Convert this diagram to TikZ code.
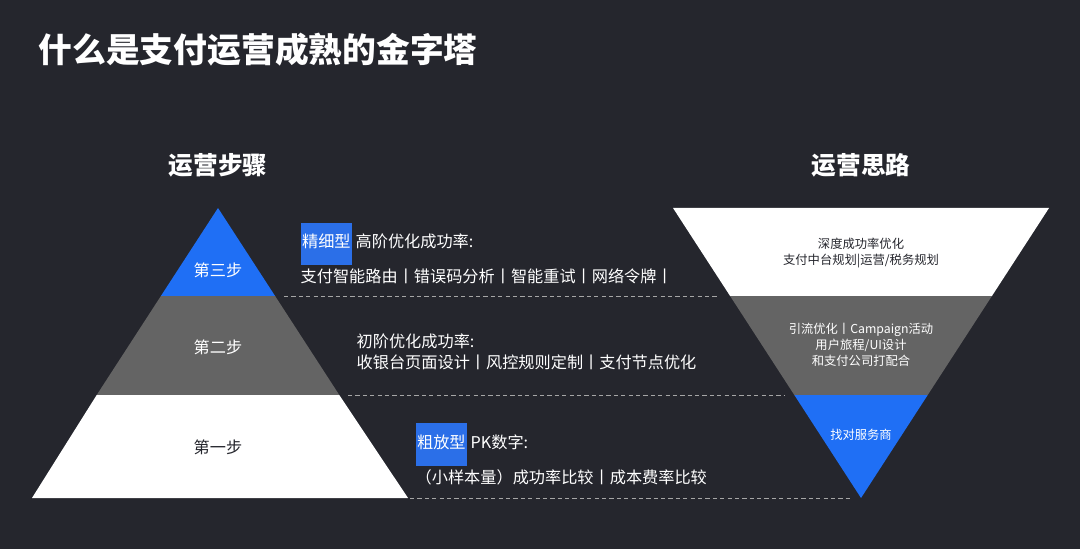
\documentclass[tikz,border=0pt]{standalone}
\usepackage{fontspec}
\setmainfont{Noto Sans CJK SC}
\definecolor{bgdark}{HTML}{25262D}
\definecolor{payblue}{HTML}{1F6FF5}
\definecolor{midgray}{HTML}{646464}
\definecolor{hlblue}{HTML}{2B6FE8}
\tikzset{
  steptext/.style={font=\fontsize{4.6}{6}\selectfont, text=white, align=left, anchor=west, inner sep=0},
  mindtext/.style={font=\fontsize{3.5}{4.6}\selectfont, align=center, inner sep=0},
  steplabel/.style={font=\fontsize{4.6}{6}\selectfont, inner sep=0},
  header/.style={font=\fontsize{7}{8}\selectfont\bfseries, text=white, inner sep=0},
  sepline/.style={draw=gray!70, dashed, dash pattern=on 1.2pt off 0.9pt, line width=0.25pt},
}
\newcommand{\hl}[1]{\colorbox{hlblue}{\kern-2.6pt\strut#1\kern-2.6pt}}
\begin{document}
\begin{tikzpicture}[x=0.01cm, y=-0.01cm]
  \fill[bgdark] (0,0) rectangle (1080,549);
  \node[anchor=west, font=\fontsize{9.6}{11}\selectfont\bfseries, text=white, inner sep=0] (title) at (38,50) {什么是支付运营成熟的金字塔};

  % left pyramid
  \node[header] (lhead) at (218,165) {运营步骤};
  \fill[payblue] (218,208) -- (275.1,296) -- (160.9,296) -- cycle;
  \fill[midgray] (160.9,296) -- (275.1,296) -- (339.3,395) -- (96.7,395) -- cycle;
  \fill[white] (96.7,395) -- (339.3,395) -- (408,498) -- (32,498) -- cycle;
  \node[steplabel, text=white] (s3) at (218,270) {第三步};
  \node[steplabel, text=white] (s2) at (218,347) {第二步};
  \node[steplabel, text=bgdark] (s1) at (218,447) {第一步};

  % right funnel
  \node[header] (rhead) at (861,165) {运营思路};
  \fill[white] (673,208) -- (1049,208) -- (991.9,296) -- (730.1,296) -- cycle;
  \fill[midgray] (730.1,296) -- (991.9,296) -- (927.7,395) -- (794.3,395) -- cycle;
  \fill[payblue] (794.3,395) -- (927.7,395) -- (861,498) -- cycle;
  \node[mindtext, text=bgdark] (m3) at (861,253) {深度成功率优化\\支付中台规划|运营/税务规划};
  \node[mindtext, text=white] (m2) at (861,345) {引流优化丨Campaign活动\\用户旅程/UI设计\\和支付公司打配合};
  \node[mindtext, text=white] (m1) at (861,435) {找对服务商};

  % separators
  \draw[sepline] (284,296) -- (718,296);
  \draw[sepline] (348,395) -- (785,395);
  \draw[sepline] (410,498) -- (850,498);

  % step descriptions
  \node[steptext] (d3) at (300,253) {\hl{精细型} 高阶优化成功率:\\支付智能路由丨错误码分析丨智能重试丨网络令牌丨};
  \node[steptext] (d2) at (356,352) {初阶优化成功率:\\收银台页面设计丨风控规则定制丨支付节点优化};
  \node[steptext] (d1) at (415,454) {\hl{粗放型} PK数字:\\（小样本量）成功率比较丨成本费率比较};
\end{tikzpicture}
\end{document}
